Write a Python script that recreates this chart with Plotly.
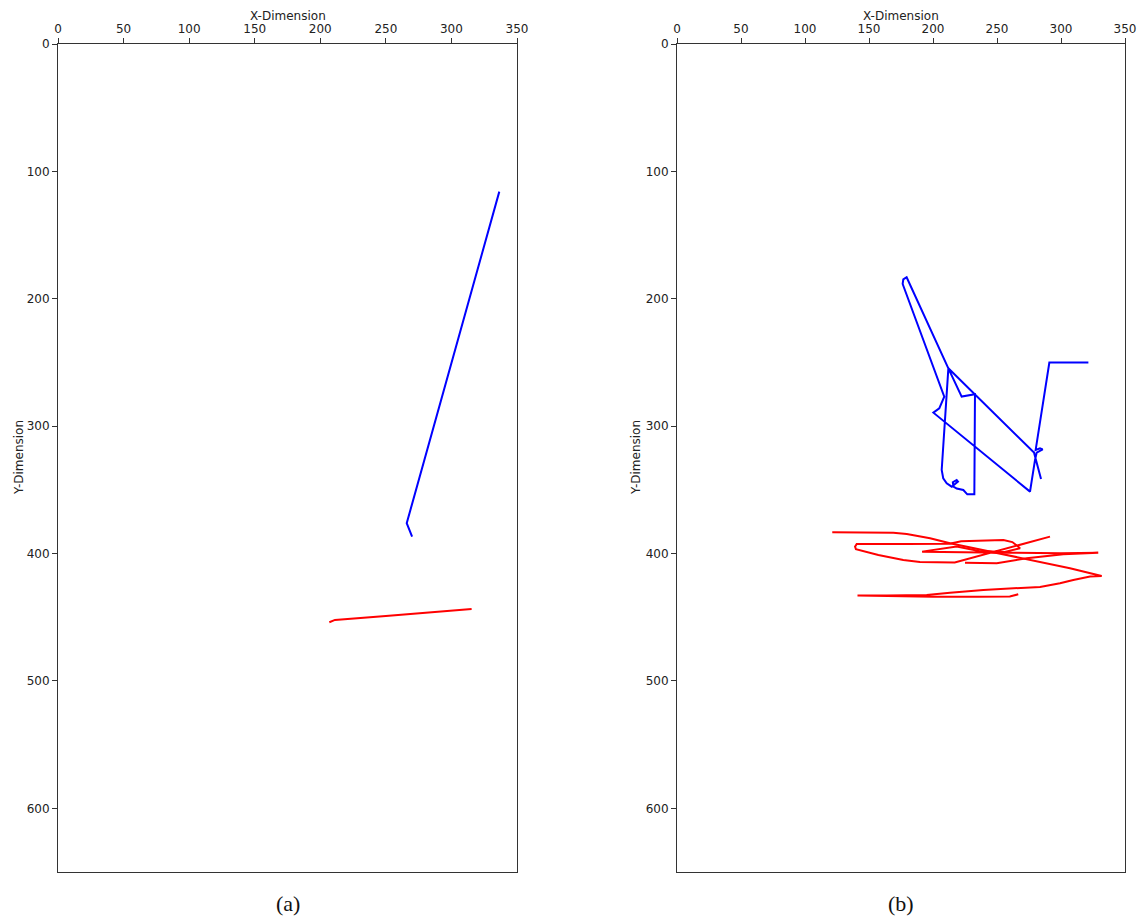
import plotly.graph_objects as go

# ---------------- data ----------------
# panel (a)
a_blue_x = [336.5, 265.9, 270.0]
a_blue_y = [115.9, 376.2, 386.7]
a_red_x = [206.9, 211.2, 250.0, 315.4]
a_red_y = [453.9, 452.1, 449.0, 443.5]

# panel (b) blue trajectory
b_blue_x = [321.4, 290.9, 280.2, 283.6, 285.7, 281.0, 279.7, 275.8, 200.3, 204.9, 208.8,
            176.3, 176.8, 179.4, 212.0, 222.4, 232.8, 232.3, 226.8, 223.7, 218.5, 216.0,
            215.5, 218.5, 219.5, 216.0, 214.6, 210.7, 208.0, 206.8, 212.0, 278.9, 284.4]
b_blue_y = [250.1, 250.1, 318.7, 317.4, 318.2, 320.8, 326.5, 351.4, 289.4, 286.0, 276.8,
            188.4, 184.7, 183.1, 254.6, 276.8, 275.0, 353.5, 353.5, 350.1, 349.0, 347.5,
            344.0, 342.3, 343.5, 346.0, 347.5, 344.8, 341.0, 334.4, 254.6, 320.7, 341.4]

# panel (b) red trajectory: long outer strokes
b_red1_x = [121.3, 150.0, 169.0, 179.5, 197.7, 213.3, 240.0, 262.0, 283.6, 307.0, 331.8,
            322.7, 309.6, 299.2, 283.6, 260.0, 239.3, 213.3, 195.1, 163.8, 142.0, 141.0,
            165.0, 200.0, 235.0, 260.0, 266.6]
b_red1_y = [383.3, 383.4, 383.6, 384.6, 388.0, 391.9, 397.6, 402.2, 406.4, 411.5, 417.6,
            418.1, 420.7, 423.3, 426.2, 427.5, 428.6, 430.7, 432.5, 433.0, 432.5, 432.9,
            433.6, 434.0, 434.0, 433.8, 432.0]
# panel (b) red trajectory: central knot
b_red2_x = [291.4, 268.0, 252.3, 217.0, 189.8, 176.8, 157.3, 148.2, 139.8, 139.1, 140.4,
            180.0, 213.0, 222.0, 255.0, 262.0, 268.0, 256.0, 236.0, 218.5, 191.5, 240.0,
            300.0, 329.1, 301.8, 273.2, 249.8, 225.0]
b_red2_y = [386.7, 393.3, 397.2, 407.1, 406.6, 405.0, 401.1, 398.5, 396.6, 394.6, 392.5,
            392.5, 392.3, 390.3, 389.3, 391.0, 395.8, 398.8, 398.0, 394.5, 398.5, 399.2,
            399.8, 399.3, 400.5, 403.7, 407.6, 407.3]

x_ticks = [0, 50, 100, 150, 200, 250, 300, 350]
y_ticks = [0, 100, 200, 300, 400, 500, 600]
x_title = "X-Dimension"
y_title = "Y-Dimension"
panel_labels = ["(a)", "(b)"]

W, H = 1139, 917
BLUE = "#0000ff"
RED = "#ff0000"
LW = 2

fig = go.Figure()


def line(x, y, color, xa, ya):
    fig.add_trace(go.Scatter(x=x, y=y, mode="lines", line=dict(color=color, width=LW),
                             xaxis=xa, yaxis=ya, showlegend=False, hoverinfo="skip"))


line(a_blue_x, a_blue_y, BLUE, "x", "y")
line(a_red_x, a_red_y, RED, "x", "y")
line(b_blue_x, b_blue_y, BLUE, "x2", "y2")
line(b_red1_x, b_red1_y, RED, "x2", "y2")
line(b_red2_x, b_red2_y, RED, "x2", "y2")

font_ax = dict(family="DejaVu Sans", size=12, color="#222222")

common_x = dict(range=[0, 350], tickvals=x_ticks, side="top", showline=True, mirror=True,
                linecolor="#333333", linewidth=1, ticks="outside", ticklen=5,
                tickcolor="#333333", showgrid=False, zeroline=False, tickfont=font_ax,
                automargin=False)
common_y = dict(range=[650, 0], tickvals=y_ticks, showline=True, mirror=True,
                linecolor="#333333", linewidth=1, ticks="outside", ticklen=5,
                tickcolor="#333333", showgrid=False, zeroline=False, tickfont=font_ax,
                automargin=False)

y_dom = [1 - 872 / H, 1 - 44 / H]
fig.update_layout(
    width=W, height=H,
    margin=dict(l=0, r=0, t=0, b=0, autoexpand=False),
    paper_bgcolor="white", plot_bgcolor="white",
    xaxis=dict(common_x, domain=[58 / W, 517 / W], anchor="y"),
    yaxis=dict(common_y, domain=y_dom, anchor="x"),
    xaxis2=dict(common_x, domain=[677 / W, 1125 / W], anchor="y2"),
    yaxis2=dict(common_y, domain=y_dom, anchor="x2"),
)

panels = [((58 + 517) / 2, 19), ((677 + 1125) / 2, 636)]
for lab, (cx, ytx) in zip(panel_labels, panels):
    fig.add_annotation(text=lab, x=cx / W, y=1 - 903 / H, xref="paper", yref="paper",
                       showarrow=False, xanchor="center", yanchor="middle",
                       font=dict(family="Liberation Serif", size=22, color="#111111"))
    fig.add_annotation(text=x_title, x=cx / W, y=1 - 16 / H, xref="paper", yref="paper",
                       showarrow=False, xanchor="center", yanchor="middle", font=font_ax)
    fig.add_annotation(text=y_title, x=ytx / W, y=1 - 458 / H, xref="paper", yref="paper",
                       showarrow=False, xanchor="center", yanchor="middle", textangle=-90,
                       font=font_ax)

fig.write_html(
    "out.html",
    config={"displayModeBar": False},
    post_script="document.body.style.margin='0';document.body.style.overflow='hidden';",
)
